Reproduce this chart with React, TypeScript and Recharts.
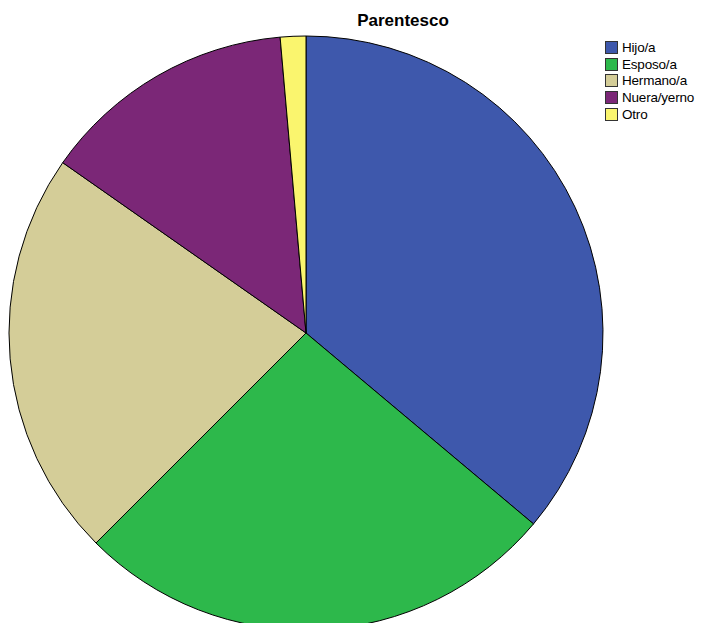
import React from "react";
import { PieChart, Pie, Cell, Legend } from "recharts";

const categories = ["Hijo/a", "Esposo/a", "Hermano/a", "Nuera/yerno", "Otro"];
const counts = [26, 19, 16, 10, 1];
const colors = ["#3E58AC", "#2DB84B", "#D4CD98", "#7B2777", "#FAF56E"];
const title = "Parentesco";

const data = categories.map((name, i) => ({ name, value: counts[i] }));

const LegendContent = () => (
  <div style={{ fontFamily: "'Liberation Sans', Arial, sans-serif", fontSize: 13.5, color: "#000", letterSpacing: -0.2 }}>
    {categories.map((c, i) => (
      <div key={c} style={{ display: "flex", alignItems: "center", height: 16.75, whiteSpace: "nowrap" }}>
        <span
          style={{
            display: "inline-block",
            width: 11,
            height: 11,
            background: colors[i],
            border: "1px solid #333",
            marginRight: 4,
            flexShrink: 0,
          }}
        />
        <span>{c}</span>
      </div>
    ))}
  </div>
);

export default function App() {
  return (
    <div style={{ position: "absolute", left: 0, top: 0, width: 703, height: 623, background: "#fff", overflow: "hidden" }}>
      <PieChart width={703} height={623} margin={{ top: 0, right: 0, bottom: 0, left: 0 }}>
        <text
          x={403}
          y={26}
          textAnchor="middle"
          style={{ fontFamily: "'Liberation Sans', Arial, sans-serif", fontSize: 17, fontWeight: 700 }}
          fill="#000"
        >
          {title}
        </text>
        <Pie
          data={data}
          dataKey="value"
          nameKey="name"
          cx={306}
          cy={333}
          outerRadius={297}
          startAngle={90}
          endAngle={-270}
          stroke="#000"
          strokeWidth={1}
          isAnimationActive={false}
          labelLine={false}
        >
          {data.map((d, i) => (
            <Cell key={d.name} fill={colors[i]} />
          ))}
        </Pie>
        <Legend
          content={<LegendContent />}
          layout="vertical"
          align="right"
          verticalAlign="top"
          wrapperStyle={{ position: "absolute", left: 605, top: 39, width: 100 }}
        />
      </PieChart>
    </div>
  );
}
